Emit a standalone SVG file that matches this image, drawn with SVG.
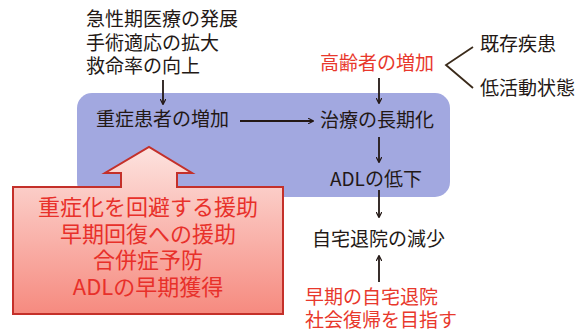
<svg xmlns="http://www.w3.org/2000/svg" width="586" height="334" viewBox="0 0 586 334">
<defs>
<style>
text{font-family:"Noto Sans CJK JP","Noto Sans",sans-serif;font-size:19px;fill:#231815}
.red{fill:#e8382c}
.big{font-size:22px;fill:#e8302a;text-anchor:middle}
.ln{stroke:#231815;stroke-width:1.8;fill:none}
</style>
<marker id="ah" viewBox="0 0 10 10" refX="9" refY="5" markerWidth="6" markerHeight="6" orient="auto" markerUnits="userSpaceOnUse">
<path d="M0,0 L10,5 L0,10" fill="none" stroke="#231815" stroke-width="2"/>
</marker>
<linearGradient id="rg" x1="0" y1="0" x2="0" y2="1">
<stop offset="0" stop-color="#fde3df"/>
<stop offset="1" stop-color="#f68a7f"/>
</linearGradient>
</defs>
<rect x="0" y="0" width="586" height="334" fill="#fff"/>
<g id="bluebox"><rect x="77" y="93" width="373" height="104" rx="15" fill="#a2a8e0"/></g>
<g id="causes"><text x="86" y="26">急性期医療の発展</text><text x="86" y="50">手術適応の拡大</text><text x="86" y="73">救命率の向上</text></g>
<g id="severe"><text x="96" y="126">重症患者の増加</text></g>
<g id="elderly"><text x="320" y="70" class="red">高齢者の増加</text></g>
<g id="existing"><text x="480" y="51">既存疾患</text></g>
<g id="lowactivity"><text x="480" y="95">低活動状態</text></g>
<g id="prolonged"><text x="320" y="127">治療の長期化</text></g>
<g id="adl"><text x="330" y="186">ADLの低下</text></g>
<g id="discharge"><text x="312" y="246">自宅退院の減少</text></g>
<g id="goal"><text x="305" y="304" class="red">早期の自宅退院</text><text x="305" y="327" class="red">社会復帰を目指す</text></g>
<g id="support">
<path d="M13,187 H121 V173 H105 L149,147 L192,173 H177 V187 H283 V314 H13 Z" fill="url(#rg)" stroke="#c4302a" stroke-width="2"/>
<text x="148" y="215" class="big">重症化を回避する援助</text>
<text x="148" y="242" class="big">早期回復への援助</text>
<text x="148" y="268" class="big">合併症予防</text>
<text x="148" y="295" class="big">ADLの早期獲得</text>
</g>
<g id="connectors">
<line class="ln" x1="163" y1="80" x2="163" y2="104" marker-end="url(#ah)"/>
<line class="ln" x1="240" y1="121" x2="313" y2="121" marker-end="url(#ah)"/>
<line class="ln" x1="379" y1="78" x2="379" y2="103" marker-end="url(#ah)"/>
<line class="ln" x1="379" y1="137" x2="379" y2="162" marker-end="url(#ah)"/>
<line class="ln" x1="379" y1="190" x2="379" y2="217" marker-end="url(#ah)"/>
<line class="ln" x1="379" y1="282" x2="379" y2="256" marker-end="url(#ah)"/>
<polyline points="473,47 446,65 473,88" fill="none" stroke="#3a2a1a" stroke-width="1.8"/>
</g>
</svg>
